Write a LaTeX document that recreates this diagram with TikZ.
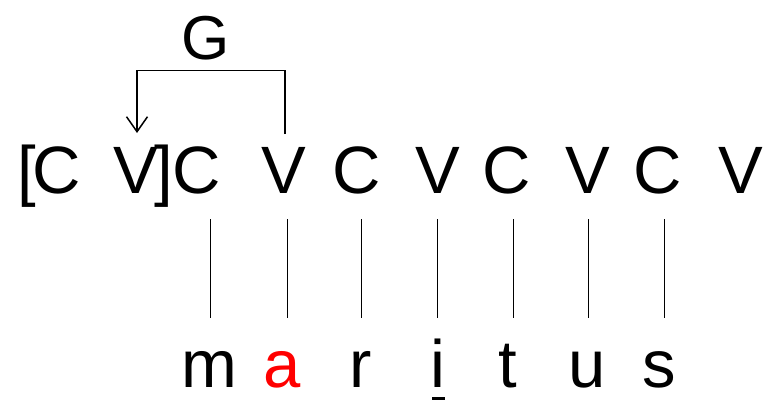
\documentclass[tikz,border=0pt]{standalone}
\usepackage{fontspec}
\setmainfont{Liberation Sans}
\usetikzlibrary{arrows.meta}
\begin{document}
\begin{tikzpicture}[x=1pt,y=-1pt,
  seg/.style={inner sep=0pt,anchor=base,font=\fontsize{67}{70}\selectfont},
  glab/.style={inner sep=0pt,anchor=base,font=\fontsize{62}{65}\selectfont},
  assoc/.style={line width=0.9pt},
  spread/.style={line width=1.5pt,-{Straight Barb[length=15pt,width=21pt,line width=1.5pt]}}]
\useasboundingbox (0,0) rectangle (765,401);
% top skeleton
\node[seg] (lb) at (27,193) {[};
\node[seg] (c1) at (57,193) {C};
\node[seg] (v1) at (136,193) {V};
\node[seg] (rb) at (164,193) {]};
\node[seg] (c2) at (197,193) {C};
\node[seg] (v2) at (284,193) {V};
\node[seg] (c3) at (357,193) {C};
\node[seg] (v3) at (438,193) {V};
\node[seg] (c4) at (507,193) {C};
\node[seg] (v4) at (588,193) {V};
\node[seg] (c5) at (658,193) {C};
\node[seg] (v5) at (741,193) {V};
% G label and spreading arrow
\node[glab] (g) at (206,60) {G};
\coordinate (gs) at (285,134);
\coordinate (gr) at (285,70.5);
\coordinate (gl) at (137,70.5);
\coordinate (gt) at (137,133);
\draw[spread] (gs) -- (gr) -- (gl) -- (gt);
% melody
\node[seg] (m) at (209,387) {m};
\node[seg,text=red] (a) at (282,387) {a};
\node[seg] (r) at (361,387) {r};
\node[seg] (i) at (438,387) {i};
\node[seg] (t) at (508,387) {t};
\node[seg] (u) at (587,387) {u};
\node[seg] (s) at (659,387) {s};
\coordinate (ul1) at (432,398.5);
\coordinate (ul2) at (445,398.5);
\draw[line width=2.6pt] (ul1) -- (ul2);
% association lines
\foreach \n/\xx in {1/210,2/287,3/361,4/437,5/513,6/588,7/664}{
  \coordinate (top\n) at (\xx,219);
  \coordinate (bot\n) at (\xx,318);
  \draw[assoc] (top\n) -- (bot\n);
}
\end{tikzpicture}
\end{document}
